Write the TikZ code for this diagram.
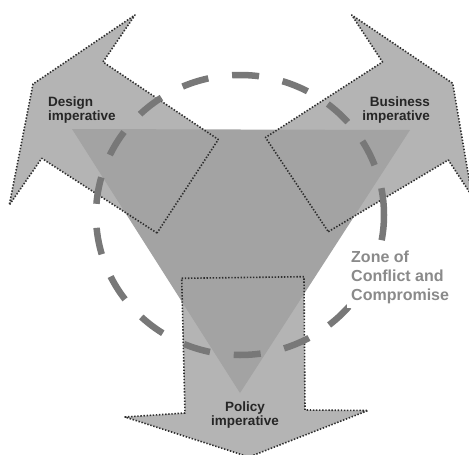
\documentclass[tikz,border=0pt]{standalone}
\usepackage{fontspec}
\setmainfont{Liberation Sans}
\definecolor{arrowgray}{HTML}{B4B4B4}
\definecolor{trigray}{HTML}{A3A3A3}
\definecolor{dotgray}{HTML}{2E2E2E}
\definecolor{dashgray}{HTML}{787878}
\definecolor{labeldark}{HTML}{262626}
\definecolor{zonetext}{HTML}{8A8A8A}
\begin{document}
\begin{tikzpicture}[x=1pt,y=-1pt,
  arrowshape/.style={fill=arrowgray},
  trishape/.style={fill=trigray},
  dotline/.style={draw=dotgray, line width=1.6pt, dash pattern=on 1.4pt off 1.7pt, line join=round},
  zoneline/.style={draw=dashgray, line width=6.5pt, dash pattern=on 27pt off 24pt},
  lbl/.style={font=\fontsize{13.5}{14}\selectfont\bfseries, text=labeldark, inner sep=0pt},
  zonelbl/.style={font=\fontsize{16}{18.8}\selectfont\bfseries, text=zonetext, fill=white, inner sep=4pt, align=left}]
\useasboundingbox (0,0) rectangle (469,455);
\clip (0,0) rectangle (469,455);
% arrow fills
\path[arrowshape] (157,233) -- (41.7,158.3) -- (9.3,205) -- (33,84) -- (135,15) -- (103,62) -- (218.3,139.5) -- cycle;
\path[arrowshape] (328.3,231.7) -- (448.3,160) -- (472,196) -- (452.7,83.3) -- (351.7,15) -- (382.5,62) -- (265.5,137.5) -- cycle;
\path[arrowshape] (181.7,278.3) -- (304,276.7) -- (305,410) -- (368,410.5) -- (249,457) -- (125,417) -- (185,413) -- cycle;
% central triangle
\path[trishape] (72,129) -- (410,130) -- (240,393) -- cycle;
% dotted outlines
\draw[dotline] (157,233) -- (41.7,158.3) -- (9.3,205) -- (33,84) -- (135,15) -- (103,62) -- (218.3,139.5) -- cycle;
\draw[dotline] (328.3,231.7) -- (448.3,160) -- (472,196) -- (452.7,83.3) -- (351.7,15) -- (382.5,62) -- (265.5,137.5) -- cycle;
\draw[dotline] (181.7,278.3) -- (304,276.7) -- (305,410) -- (368,410.5) -- (249,457) -- (125,417) -- (185,413) -- cycle;
% zone of conflict
\coordinate (zc) at (240,215);
\draw[zoneline] (zc) ++(144,0) arc[start angle=0, end angle=-360, x radius=144, y radius=140];
\node[zonelbl, anchor=north west] (zone) at (347,247) {Zone of\\Conflict and\\Compromise};
% labels
\node[lbl, anchor=north west, align=left] (design) at (48,96.5) {Design\\imperative};
\node[lbl, anchor=north east, align=right] (business) at (430,96.5) {Business\\imperative};
\node[lbl, anchor=north, align=center] (policy) at (245,401.5) {Policy\\imperative};
\end{tikzpicture}
\end{document}
